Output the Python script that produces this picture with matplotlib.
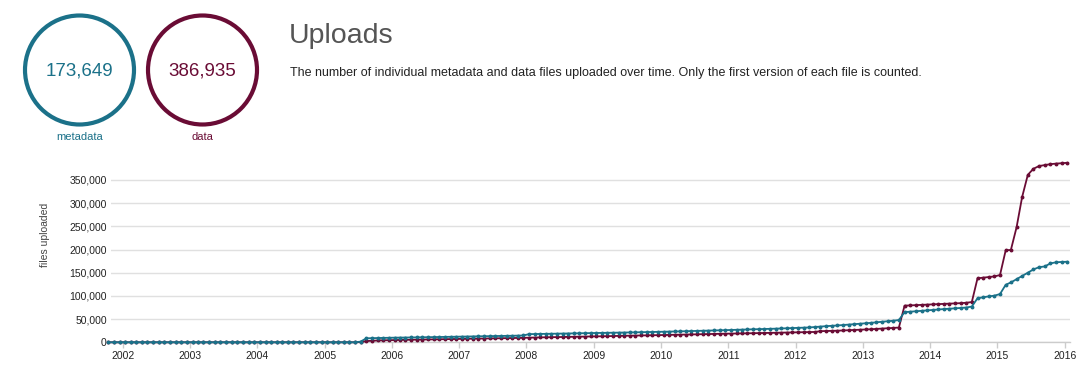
import matplotlib
matplotlib.use("Agg")
import matplotlib.pyplot as plt
import matplotlib.dates as mdates
from matplotlib.patches import Circle
from matplotlib.ticker import FuncFormatter, MultipleLocator
import pandas as pd

plt.rcParams['font.family'] = ['Liberation Sans', 'DejaVu Sans']

TEAL = "#1b7189"
MAROON = "#6a0c35"

# monthly totals, Oct 2001 .. Jan 2016 (thousands of files)
months = pd.date_range("2001-10-01", "2016-01-01", freq="MS") + pd.Timedelta(days=14)

metadata_k = [
    0, 0, 0,
    0, 0, 0, 0, 0, 0, 0, 0, 0, 0, 0, 0,
    0, 0, 0, 0, 0, 0, 0, 0, 0, 0, 0, 0,
    0, 0, 0, 0, 0, 0, 0, 0, 0, 0, 0, 0,
    0, 0, 0, 0, 0, 0, 1.5, 8.6, 9.0, 9.2, 9.5, 9.8,
    10.0, 10.1, 10.3, 10.5, 10.6, 10.8, 11.0, 11.2, 11.3, 11.5, 11.7, 11.9,
    12.1, 12.3, 12.4, 12.6, 12.8, 13.0, 13.3, 13.6, 13.9, 14.1, 14.4, 14.7,
    17.6, 17.8, 18.0, 18.2, 18.3, 18.5, 18.7, 18.9, 19.1, 19.3, 19.5, 19.7,
    19.9, 20.1, 20.3, 20.5, 20.8, 21.0, 21.3, 21.5, 21.8, 22.0, 22.3, 22.5,
    22.8, 23.0, 23.3, 23.6, 23.9, 24.2, 24.5, 24.8, 25.2, 25.5, 25.9, 26.2,
    26.6, 26.9, 27.3, 27.6, 28.0, 28.3, 28.7, 29.0, 29.4, 29.8, 30.2, 30.6,
    31.0, 31.5, 32.0, 33.0, 34.0, 34.8, 35.5, 36.3, 37.2, 38.0, 39.0, 40.0,
    41.0, 42.0, 43.2, 44.3, 45.3, 46.5, 48.0, 65.0, 66.0, 67.0, 68.0, 69.0,
    70.0, 70.8, 71.6, 72.4, 73.2, 74.0, 75.0, 77.0, 95.0, 97.0, 99.0, 100.5,
    104.0, 124.0, 129.0, 136.0, 143.0, 150.0, 157.0, 162.0, 163.5, 170.0, 172.5, 173.2,
    173.649,
]

data_k = [
    0, 0, 0,
    0, 0, 0, 0, 0, 0, 0, 0, 0, 0, 0, 0,
    0, 0, 0, 0, 0, 0, 0, 0, 0, 0, 0, 0,
    0, 0, 0, 0, 0, 0, 0, 0, 0, 0, 0, 0,
    0, 0, 0, 0, 0, 0, 0.5, 2.6, 3.4, 3.9, 4.3, 4.6,
    4.9, 5.1, 5.3, 5.5, 5.7, 5.9, 6.1, 6.3, 6.5, 6.7, 6.9, 7.1,
    7.3, 7.5, 7.7, 7.9, 8.1, 8.3, 8.5, 8.7, 8.9, 9.1, 9.3, 9.6,
    10.0, 10.3, 10.6, 10.8, 11.0, 11.2, 11.5, 11.7, 12.0, 12.2, 12.4, 12.6,
    12.8, 13.0, 13.3, 13.5, 13.8, 14.0, 14.3, 14.5, 14.8, 15.0, 15.3, 15.5,
    15.7, 15.9, 16.2, 16.4, 16.7, 17.0, 17.2, 17.5, 17.8, 18.0, 18.3, 18.5,
    18.7, 19.0, 19.2, 19.4, 19.6, 19.9, 20.1, 20.3, 20.6, 20.8, 21.0, 21.3,
    21.5, 21.7, 22.0, 22.3, 24.0, 24.3, 24.7, 25.0, 25.5, 26.0, 26.5, 27.0,
    27.6, 28.2, 28.8, 29.5, 30.2, 31.0, 31.8, 79.0, 79.6, 80.2, 80.8, 81.3,
    81.8, 82.3, 82.8, 83.3, 83.8, 84.4, 85.2, 86.8, 138.0, 139.3, 140.8, 142.0,
    145.0, 198.5, 199.0, 248.0, 313.0, 361.0, 374.0, 380.0, 382.0, 384.0, 385.2, 386.0,
    386.935,
]

totals = {"metadata": 173649, "data": 386935}

metadata = [v * 1000 for v in metadata_k]
data = [v * 1000 for v in data_k]

W, H = 1086, 376
fig = plt.figure(figsize=(W / 100, H / 100), dpi=100)

# header: circles, title, description (pixel coordinates)
bg = fig.add_axes([0, 0, 1, 1])
bg.set_xlim(0, W)
bg.set_ylim(H, 0)
bg.axis("off")

for cx, key, col in [(79.5, "metadata", TEAL), (202.5, "data", MAROON)]:
    bg.add_patch(Circle((cx, 70), 54.5, fill=False, edgecolor=col, linewidth=3.0))
    bg.text(cx, 71, f"{totals[key]:,}", color=col, fontsize=13.5,
            ha="center", va="center")
    bg.text(cx, 137, key, color=col, fontsize=8, ha="center", va="center")

bg.text(289, 36, "Uploads", color="#555555", fontsize=20.5, ha="left", va="center")
bg.text(290, 73, "The number of individual metadata and data files uploaded over time. "
        "Only the first version of each file is counted.",
        color="#222222", fontsize=9.0, ha="left", va="center")
bg.text(45, 235, "files uploaded", color="#444444", fontsize=7.5,
        rotation=90, ha="center", va="center")

# chart
ax = fig.add_axes([111 / W, (H - 342.3) / H, (1070 - 111) / W, (342.3 - 160) / H])
ax.plot(months, data, color=MAROON, lw=1.3, marker="o", ms=1.8, clip_on=False, zorder=3)
ax.plot(months, metadata, color=TEAL, lw=1.3, marker="o", ms=1.8, clip_on=False, zorder=4)

ax.set_xlim(pd.Timestamp("2001-10-29"), pd.Timestamp("2016-01-30"))
ax.set_ylim(0, 393000)

ax.yaxis.set_major_locator(MultipleLocator(50000))
ax.yaxis.set_major_formatter(FuncFormatter(lambda v, p: f"{int(v):,}"))
ax.xaxis.set_major_locator(mdates.YearLocator())
ax.xaxis.set_major_formatter(mdates.DateFormatter("%Y"))

ax.grid(axis="y", color="#e0e0e0", lw=1.0)
ax.set_axisbelow(True)
for s in ["top", "right", "left"]:
    ax.spines[s].set_visible(False)
ax.spines["bottom"].set_color("#cccccc")
ax.spines["bottom"].set_linewidth(1.0)

ax.tick_params(axis="y", length=0, pad=3, labelsize=7.5, labelcolor="#222222")
ax.tick_params(axis="x", length=4, width=1, color="#cccccc", pad=2,
               labelsize=7.5, labelcolor="#222222")

fig.savefig("out.png", dpi=100)
